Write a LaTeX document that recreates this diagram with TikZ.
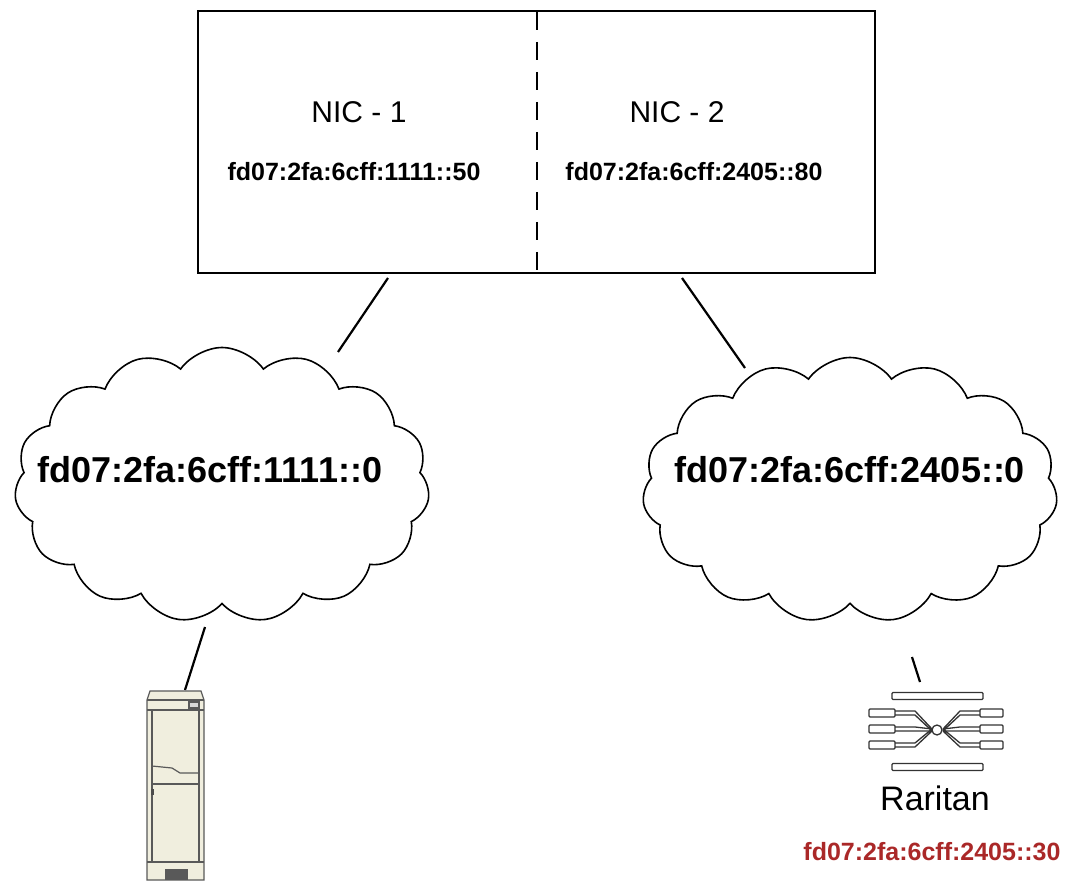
\documentclass[tikz,border=0pt]{standalone}
\usepackage{fontspec}
\setmainfont{Liberation Sans}
\usetikzlibrary{shapes.symbols}
\definecolor{cream}{RGB}{240,238,222}
\definecolor{addr}{RGB}{170,40,40}
\begin{document}
\begin{tikzpicture}[x=1pt,y=-1pt,
  cl/.style={cloud,cloud puffs=15,cloud puff arc=110,aspect=1.5,draw,line width=1.6pt,fill=white},
  ct/.style={font=\bfseries\fontsize{36}{40}\selectfont},
  lbl/.style={font=\fontsize{30}{34}\selectfont},
  ad/.style={font=\bfseries\fontsize{25}{28}\selectfont},
  ln/.style={line width=2.2pt}]
\useasboundingbox (0,0) rectangle (1082,882);
\node[draw,line width=2.4pt,minimum width=677pt,minimum height=262pt,anchor=north west] (box) at (197,10) {};
\draw[dash pattern=on 18pt off 12pt,line width=1.4pt] (537,12) -- (537,270);
\node[lbl] (n1) at (359,112) {NIC - 1};
\node[ad] (a1) at (354,172) {fd07:2fa:6cff:1111::50};
\node[lbl] (n2) at (677,112) {NIC - 2};
\node[ad] (a2) at (694,172) {fd07:2fa:6cff:2405::80};
\node[cl,minimum width=415pt,minimum height=275pt] (c1) at (222,485) {};
\node[ct] (t1) at (210,470) {fd07:2fa:6cff:1111::0};
\node[cl,minimum width=415pt,minimum height=265pt] (c2) at (850,490) {};
\node[ct] (t2) at (850,470) {fd07:2fa:6cff:2405::0};
\coordinate (b1) at (388,278); \coordinate (e1) at (338,352);
\coordinate (b2) at (682,278); \coordinate (e2) at (745,368);
\draw[ln] (b1) -- (e1); \draw[ln] (b2) -- (e2);
\coordinate (s1) at (205,627); \coordinate (s2) at (185,690);
\draw[ln] (s1) -- (s2);
\coordinate (r1) at (912,657); \coordinate (r2) at (920,682);
\draw[ln] (r1) -- (r2);
% server
\begin{scope}[draw=gray!70!black,line width=1.2pt]
\filldraw[fill=cream] (147,700) -- (150,691) -- (201,691) -- (204,700) -- (204,880) -- (147,880) -- cycle;
\draw (147,700) -- (204,700) (147,710) -- (204,710) (147,862) -- (204,862);
\draw (152,710) -- (152,862) (199,710) -- (199,862);
\draw (152,784) -- (199,784);
\draw (152,766) -- (172,768) -- (180,773) -- (199,773);
\filldraw[fill=gray!30] (189,702) rectangle (199,708);
\fill[gray!60!black] (151,789) rectangle (154,795);
\fill[gray!70!black] (165,869) rectangle (188,880);
\end{scope}
% raritan
\begin{scope}[line width=1.3pt,draw=gray!40!black]
\foreach \y in {696,767}{\draw[fill=white,rounded corners=1pt] (892,\y-3.5) rectangle (983,\y+3.5);}
\foreach \y in {713,729,745}{
  \draw[fill=white,rounded corners=1pt] (869,\y-4) rectangle (895,\y+4);
  \draw[fill=white,rounded corners=1pt] (980,\y-4) rectangle (1003,\y+4);
  \draw (895,\y-2) -- (915,\y-2) -- (932,729) (895,\y+2) -- (915,\y+2) -- (932,731);
  \draw (980,\y-2) -- (960,\y-2) -- (943,729) (980,\y+2) -- (960,\y+2) -- (943,731);
}
\draw[fill=white] (937,730) circle (5);
\end{scope}
\node[font=\fontsize{34}{38}\selectfont] (rt) at (935,798) {Raritan};
\node[ad,text=addr] (ra) at (932,852) {fd07:2fa:6cff:2405::30};
\end{tikzpicture}
\end{document}
